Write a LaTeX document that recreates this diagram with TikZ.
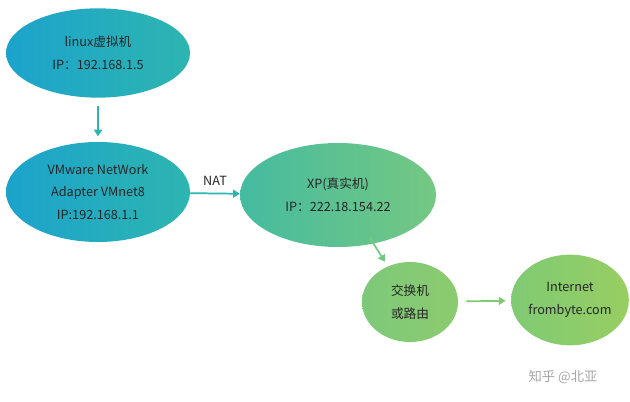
\documentclass[tikz,border=0pt]{standalone}
\usepackage{fontspec}
\setmainfont{Noto Sans CJK SC}
\usetikzlibrary{shapes.geometric,arrows.meta}
\definecolor{c1}{HTML}{1CA3CC}
\definecolor{c2}{HTML}{2DB5B0}
\definecolor{c3}{HTML}{45BBA0}
\definecolor{c4}{HTML}{75C882}
\definecolor{c5}{HTML}{7DC97A}
\definecolor{c6}{HTML}{8CCB6E}
\definecolor{c7}{HTML}{80CA74}
\definecolor{c8}{HTML}{98CE62}
\begin{document}
\begin{tikzpicture}[x=0.75pt,y=-0.75pt,
  el/.style={ellipse,inner sep=0pt,align=center,font=\fontsize{9.5}{17}\selectfont,text=black!85},
  arr/.style={-{Triangle[length=5pt,width=6pt]},line width=1.3pt,shorten <=6pt,shorten >=4pt}]
\useasboundingbox (0,0) rectangle (630,402);
\node[el,minimum width=138pt,minimum height=67pt,left color=c1,right color=c2] (a) at (98,53) {linux虚拟机\\IP：192.168.1.5};
\node[el,minimum width=138pt,minimum height=75pt,left color=c1,right color=c2] (b) at (98,192) {VMware NetWork\\Adapter VMnet8\\IP:192.168.1.1};
\node[el,minimum width=147pt,minimum height=78pt,left color=c3,right color=c4] (c) at (338,195) {XP(真实机)\\IP：222.18.154.22};
\node[el,minimum width=72pt,minimum height=60pt,left color=c5,right color=c6] (d) at (410,302) {交换机\\或路由};
\node[el,minimum width=83pt,minimum height=68pt,left color=c7,right color=c8] (e) at (570,300) {Internet\\frombyte.com};
\draw[arr,color=c2] (a) -- (b);
\draw[arr,color=c2,shorten <=0pt,shorten >=0pt] (b) -- node[above=2pt,font=\fontsize{9.5}{11}\selectfont,text=black!85]{NAT} (c);
\draw[arr,color=c4,shorten <=0pt] (370,238) -- (d);
\draw[arr,color=c7] (d) -- (e);
\node[text=gray!70,font=\fontsize{10}{12}\selectfont] (w) at (563,377) {知乎 @北亚};
\end{tikzpicture}
\end{document}
